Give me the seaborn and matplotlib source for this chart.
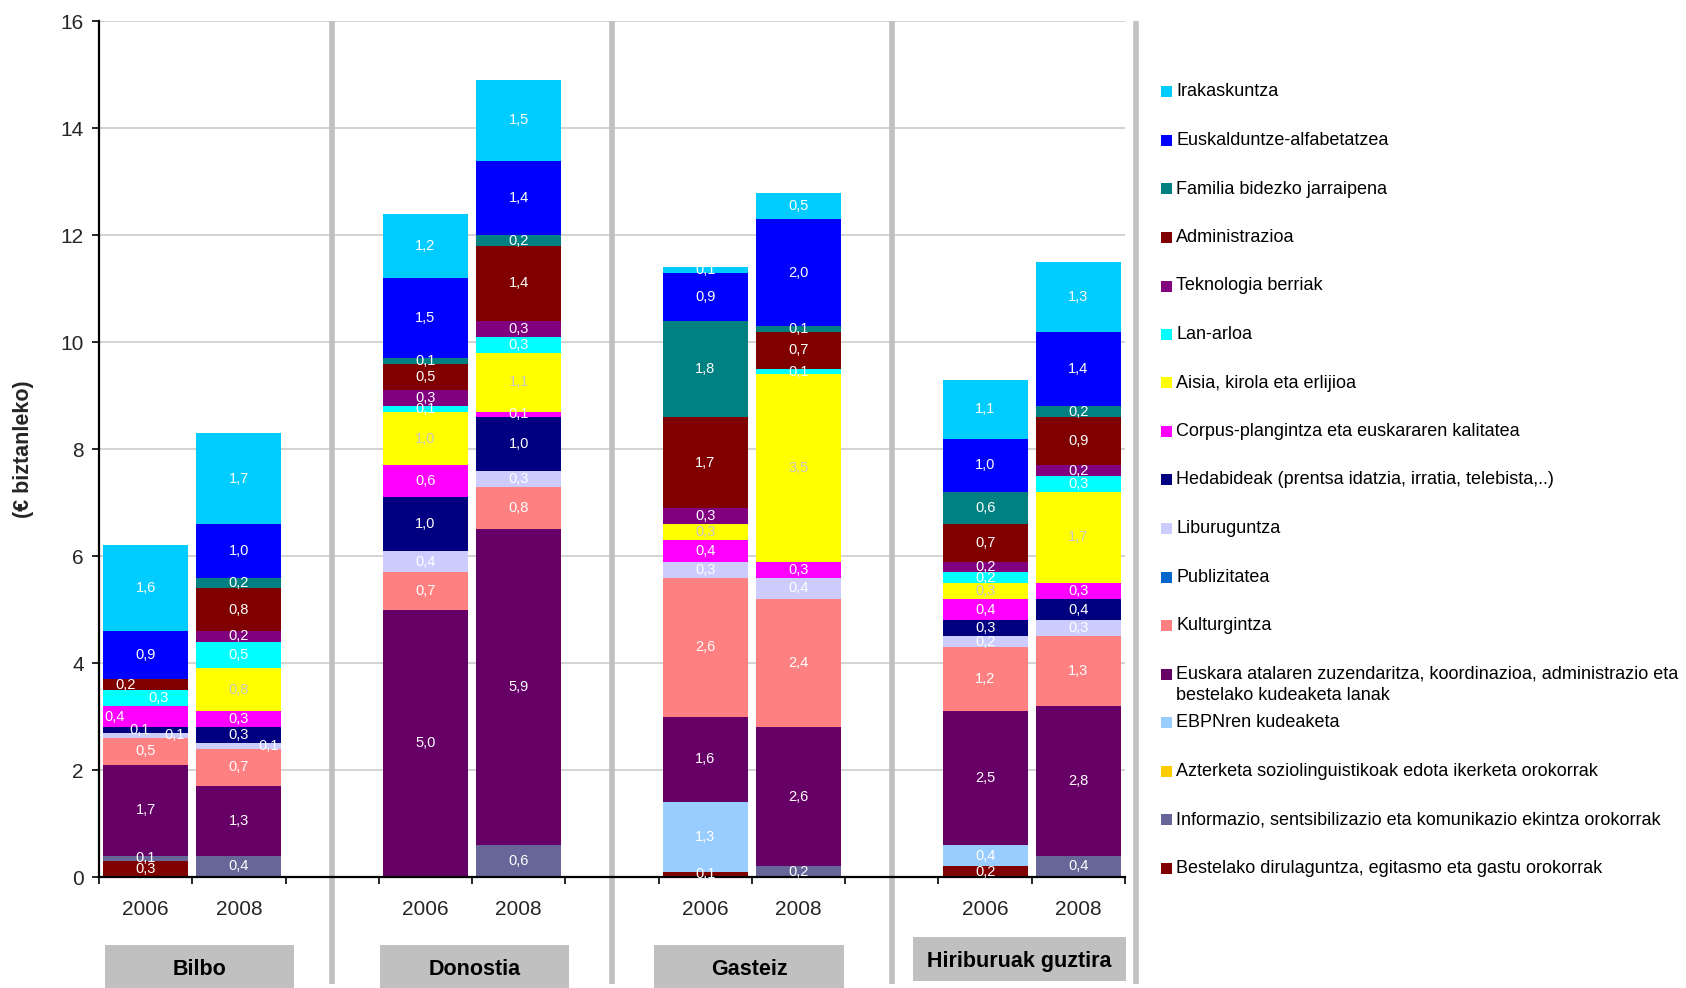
import numpy as np
import pandas as pd
import matplotlib
matplotlib.use("Agg")
import matplotlib.pyplot as plt
import matplotlib.transforms as mtransforms
from matplotlib.patches import Rectangle
import seaborn as sns

# ---------------- data ----------------
cities = ["Bilbo", "Donostia", "Gasteiz", "Hiriburuak guztira"]
years = ["2006", "2008"]

categories = [
    "Irakaskuntza",
    "Euskalduntze-alfabetatzea",
    "Familia bidezko jarraipena",
    "Administrazioa",
    "Teknologia berriak",
    "Lan-arloa",
    "Aisia, kirola eta erlijioa",
    "Corpus-plangintza eta euskararen kalitatea",
    "Hedabideak (prentsa idatzia, irratia, telebista,..)",
    "Liburuguntza",
    "Publizitatea",
    "Kulturgintza",
    "Euskara atalaren zuzendaritza, koordinazioa, administrazio eta\nbestelako kudeaketa lanak",
    "EBPNren kudeaketa",
    "Azterketa soziolinguistikoak edota ikerketa orokorrak",
    "Informazio, sentsibilizazio eta komunikazio ekintza orokorrak",
    "Bestelako dirulaguntza, egitasmo eta gastu orokorrak",
]
colors = [
    "#00CCFF", "#0000FF", "#008080", "#800000", "#800080", "#00FFFF",
    "#FFFF00", "#FF00FF", "#000080", "#CCCCFF", "#0066CC", "#FF8080",
    "#660066", "#99CCFF", "#FFCC00", "#666699", "#800000",
]

# values per bar: Bilbo06, Bilbo08, Donostia06, Donostia08, Gasteiz06, Gasteiz08, Hiri06, Hiri08
irakaskuntza   = [1.6, 1.7, 1.2, 1.5, 0.1, 0.5, 1.1, 1.3]
euskalduntze   = [0.9, 1.0, 1.5, 1.4, 0.9, 2.0, 1.0, 1.4]
familia        = [0.0, 0.2, 0.1, 0.2, 1.8, 0.1, 0.6, 0.2]
administrazioa = [0.2, 0.8, 0.5, 1.4, 1.7, 0.7, 0.7, 0.9]
teknologia     = [0.0, 0.2, 0.3, 0.3, 0.3, 0.0, 0.2, 0.2]
lan_arloa      = [0.3, 0.5, 0.1, 0.3, 0.0, 0.1, 0.2, 0.3]
aisia          = [0.0, 0.8, 1.0, 1.1, 0.3, 3.5, 0.3, 1.7]
corpus         = [0.4, 0.3, 0.6, 0.1, 0.4, 0.3, 0.4, 0.3]
hedabideak     = [0.1, 0.3, 1.0, 1.0, 0.0, 0.0, 0.3, 0.4]
liburuguntza   = [0.1, 0.1, 0.4, 0.3, 0.3, 0.4, 0.2, 0.3]
publizitatea   = [0.0, 0.0, 0.0, 0.0, 0.0, 0.0, 0.0, 0.0]
kulturgintza   = [0.5, 0.7, 0.7, 0.8, 2.6, 2.4, 1.2, 1.3]
euskara_atala  = [1.7, 1.3, 5.0, 5.9, 1.6, 2.6, 2.5, 2.8]
ebpn           = [0.0, 0.0, 0.0, 0.0, 1.3, 0.0, 0.4, 0.0]
azterketa      = [0.0, 0.0, 0.0, 0.0, 0.0, 0.0, 0.0, 0.0]
informazio     = [0.1, 0.4, 0.0, 0.6, 0.0, 0.2, 0.0, 0.4]
bestelako      = [0.3, 0.0, 0.0, 0.0, 0.1, 0.0, 0.2, 0.0]

series = [irakaskuntza, euskalduntze, familia, administrazioa, teknologia,
          lan_arloa, aisia, corpus, hedabideak, liburuguntza, publizitatea,
          kulturgintza, euskara_atala, ebpn, azterketa, informazio, bestelako]

# ---------------- layout helpers ----------------
bar_slots = [0, 1, 3, 4, 6, 7, 9, 10]          # gap slots at 2, 5, 8
bar_years = [y for _ in cities for y in years]

rows = []
for cat, vals in zip(categories, series):
    for slot, v in zip(bar_slots, vals):
        rows.append({"slot": slot, "category": cat, "value": v})
df = pd.DataFrame(rows)
palette = dict(zip(categories, colors))

sns.set_theme(style="white")
plt.rcParams["font.family"] = ["Liberation Sans", "DejaVu Sans"]

W, H = 1686, 988
fig = plt.figure(figsize=(W / 100, H / 100), dpi=100)
ax_l, ax_r, ax_t, ax_b = 99, 1125, 21.5, 877
ax = fig.add_axes([ax_l / W, 1 - ax_b / H, (ax_r - ax_l) / W, (ax_b - ax_t) / H])

sns.histplot(data=df, x="slot", weights="value", hue="category",
             hue_order=categories, palette=palette, multiple="stack",
             discrete=True, shrink=0.91, alpha=1, linewidth=0,
             edgecolor="none", legend=False, ax=ax)

ax.set_xlim(-0.5, 10.5)
ax.set_ylim(0, 16)
ax.set_yticks(np.arange(0, 17, 2))
ax.set_yticklabels([str(v) for v in range(0, 17, 2)])
ax.set_xticks(np.arange(-0.5, 11, 1))
ax.set_xticklabels([])
ax.set_xticks(bar_slots, minor=True)
ax.set_xticklabels(bar_years, minor=True)
ax.set_xlabel("")
ax.set_ylabel("")
ax.grid(axis="y", color="#CCCCCC", linewidth=1.2)
ax.set_axisbelow(True)
for s in ["top", "right"]:
    ax.spines[s].set_visible(False)
for s in ["left", "bottom"]:
    ax.spines[s].set_color("black")
    ax.spines[s].set_linewidth(1.6)
ax.tick_params(axis="y", which="major", direction="out", length=5, width=1.2,
               color="black", labelsize=15, pad=6, left=True)
ax.tick_params(axis="x", which="major", direction="out", length=5, width=1.2,
               color="black", bottom=True)
ax.tick_params(axis="x", which="minor", length=0, labelsize=15, pad=16.5, bottom=True)

# value labels
label_offsets = {(0, "Liburuguntza"): 0.31, (0, "Hedabideak (prentsa idatzia, irratia, telebista,..)"): -0.06,
                 (0, "Corpus-plangintza eta euskararen kalitatea"): -0.33, (0, "Lan-arloa"): 0.14,
                 (0, "Administrazioa"): -0.22, (1, "Liburuguntza"): 0.32}
for bi, slot in enumerate(bar_slots):
    bottom = 0.0
    for cat, vals in zip(categories[::-1], series[::-1]):
        v = vals[bi]
        if v > 0:
            col = "#C8C8C8" if cat.startswith("Aisia") else "white"
            dx = label_offsets.get((bi, cat), 0.0)
            ax.text(slot + dx, bottom + v / 2, f"{v:.1f}".replace(".", ","),
                    ha="center", va="center", color=col, fontsize=10.5, zorder=5)
            bottom += v

# separators
trans = mtransforms.blended_transform_factory(ax.transData, ax.transAxes)
for xs in [2, 5, 8, 10.62]:
    ax.plot([xs, xs], [1.0, -0.125], transform=trans, color="#C0C0C0",
            linewidth=4, clip_on=False, zorder=1, solid_capstyle="butt")

# group label boxes
group_boxes = [(-0.44, 1.59, -0.1297, -0.0795), (2.51, 4.54, -0.1297, -0.0795),
               (5.45, 7.49, -0.1297, -0.0795), (8.23, 10.51, -0.1213, -0.0697)]
for name, (x0, x1, y0, y1) in zip(cities, group_boxes):
    ax.add_patch(Rectangle((x0, y0), x1 - x0, y1 - y0, transform=trans,
                           facecolor="#C0C0C0", edgecolor="none", clip_on=False))
    ax.text((x0 + x1) / 2, (y0 + y1) / 2 - 0.003, name, transform=trans, ha="center",
            va="center", fontsize=15.5, fontweight="bold", color="black")

# y label
fig.text(24 / W, 1 - 449 / H, "(€ biztanleko)", rotation=90, ha="center",
         va="center", fontsize=15.5, fontweight="bold")

# legend (manual, to mimic the source layout)
for i, (cat, col) in enumerate(zip(categories, colors)):
    yc = 92 + i * 48.5
    fig.patches.append(Rectangle((1161 / W, 1 - (yc + 5.5) / H), 11 / W, 11 / H,
                                 transform=fig.transFigure, facecolor=col,
                                 edgecolor="none"))
    for k, line in enumerate(cat.split("\n")):
        fig.text(1176 / W, 1 - (yc + k * 21.6) / H, line, ha="left",
                 va="center", fontsize=13, color="black")

fig.savefig("out.png", dpi=100)
